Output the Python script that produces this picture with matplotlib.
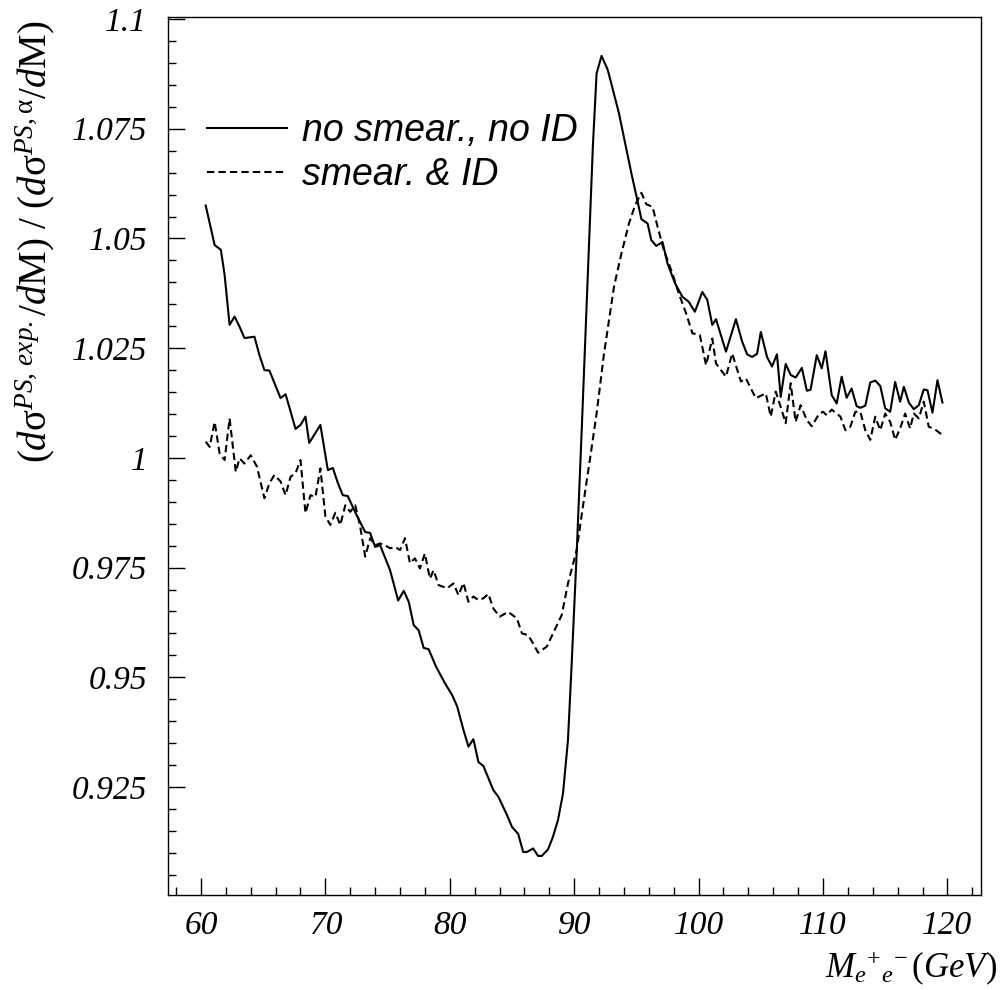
import matplotlib
matplotlib.use("Agg")
import matplotlib.pyplot as plt
from matplotlib.ticker import MultipleLocator, FixedLocator, FuncFormatter

plt.rcParams["mathtext.fontset"] = "custom"
plt.rcParams["mathtext.rm"] = "Liberation Serif"
plt.rcParams["mathtext.it"] = "Liberation Serif:italic"
plt.rcParams["mathtext.bf"] = "Liberation Serif:bold"

# no smearing, no ID (solid)
solid_x = [60.38, 61.1, 61.6, 61.9, 62.3, 62.7, 63.1, 63.5, 64.3, 64.7, 65.1, 65.5,
           66.4, 66.8, 67.1, 67.6, 68.0, 68.4, 68.7, 69.6, 70.2, 70.6, 71.0, 71.4,
           71.8, 72.5, 73.2, 73.6, 74.0, 74.4, 75.2, 75.85, 76.3, 76.7, 77.1, 77.5,
           77.9, 78.3, 78.9, 79.6, 80.2, 80.6, 81.1, 81.5, 81.9, 82.3, 82.7, 83.5,
           83.9, 84.6, 85.0, 85.5, 85.9, 86.2, 86.7, 87.1, 87.4, 87.9, 88.3, 88.7,
           89.1, 89.5, 89.8, 90.2, 90.6, 91.5, 91.8, 92.2, 92.7, 93.6, 94.6, 95.1,
           95.4, 95.9, 96.2, 96.6, 97.1, 97.5, 98.1, 98.7, 99.2, 99.7, 100.3, 100.7,
           101.1, 101.4, 102.2, 103.0, 103.5, 103.9, 104.3, 104.7, 105.0, 105.5, 105.9, 106.3,
           106.6, 107.0, 107.4, 107.8, 108.3, 108.7, 109.0, 109.5, 109.9, 110.2, 110.7, 111.1,
           111.5, 111.9, 112.3, 112.7, 113.0, 113.4, 113.8, 114.2, 114.6, 115.0, 115.4, 115.8,
           116.2, 116.5, 116.9, 117.3, 117.7, 118.1, 118.4, 118.8, 119.2, 119.6]
solid_y = [1.0575, 1.0485, 1.0474, 1.0417, 1.0303, 1.0322, 1.0299, 1.0273, 1.0276, 1.0234, 1.0200, 1.0199,
           1.0136, 1.0145, 1.0116, 1.0066, 1.0075, 1.0094, 1.0034, 1.0075, 0.9972, 0.9977, 0.9943, 0.9915,
           0.9913, 0.9870, 0.9831, 0.9829, 0.9797, 0.9801, 0.9744, 0.9675, 0.9697, 0.9672, 0.9619, 0.9607,
           0.9567, 0.9564, 0.9524, 0.9487, 0.9459, 0.9433, 0.9380, 0.9342, 0.9359, 0.9307, 0.9298, 0.9243,
           0.9228, 0.9186, 0.9159, 0.9143, 0.9102, 0.9102, 0.9110, 0.9093, 0.9093, 0.9108, 0.9137, 0.9175,
           0.9235, 0.9357, 0.9532, 0.9783, 1.0060, 1.0709, 1.0876, 1.0916, 1.0884, 1.0785, 1.0648, 1.0584,
           1.0544, 1.0534, 1.0496, 1.0483, 1.0492, 1.0443, 1.0398, 1.0367, 1.0356, 1.0333, 1.0378, 1.0360,
           1.0303, 1.0316, 1.0242, 1.0316, 1.0265, 1.0236, 1.0230, 1.0237, 1.0287, 1.0230, 1.0208, 1.0236,
           1.0139, 1.0214, 1.0189, 1.0183, 1.0205, 1.0153, 1.0155, 1.0234, 1.0204, 1.0243, 1.0143, 1.0124,
           1.0185, 1.0137, 1.0158, 1.0118, 1.0114, 1.0119, 1.0172, 1.0176, 1.0164, 1.0113, 1.0105, 1.0173,
           1.0128, 1.0162, 1.0126, 1.0111, 1.0120, 1.0156, 1.0154, 1.0103, 1.0177, 1.0126]

# smearing & ID (dashed)
dash_x = [60.38, 60.7, 61.1, 61.5, 61.9, 62.3, 62.8, 63.1, 63.5, 64.0, 64.5, 65.1,
          65.5, 65.9, 66.4, 66.8, 67.2, 67.6, 68.0, 68.4, 68.8, 69.2, 69.6, 70.0,
          70.4, 70.8, 71.2, 71.6, 72.0, 72.4, 72.8, 73.2, 73.6, 74.0, 74.4, 74.8,
          75.2, 75.6, 76.0, 76.4, 76.8, 77.2, 77.6, 78.0, 78.4, 78.7, 79.1, 79.8,
          80.3, 80.7, 81.1, 81.5, 81.9, 82.3, 82.7, 83.1, 83.5, 84.0, 84.7, 85.4,
          85.8, 86.3, 86.7, 87.1, 87.8, 88.3, 89.0, 89.5, 90.2, 90.7, 91.3, 91.8,
          92.4, 93.2, 93.8, 94.4, 94.9, 95.4, 95.8, 96.3, 96.7, 97.2, 97.9, 98.4,
          99.0, 99.5, 100.1, 100.6, 101.1, 101.4, 102.2, 102.7, 103.4, 103.8, 104.6, 105.4,
          105.8, 106.2, 106.6, 107.0, 107.4, 107.8, 108.2, 108.7, 109.1, 109.7, 110.0, 110.3,
          110.7, 111.4, 111.8, 112.2, 112.6, 113.0, 113.4, 113.8, 114.2, 114.6, 115.0, 115.4,
          115.8, 116.2, 116.6, 117.0, 117.3, 117.7, 118.1, 118.5, 119.0, 119.6]
dash_y = [1.0037, 1.0025, 1.0082, 1.0010, 0.9995, 1.0090, 0.9968, 0.9999, 0.9987, 1.0006, 0.9980, 0.9908,
          0.9942, 0.9961, 0.9946, 0.9915, 0.9957, 0.9965, 0.9995, 0.9874, 0.9915, 0.9911, 0.9976, 0.9867,
          0.9847, 0.9875, 0.9847, 0.9892, 0.9877, 0.9892, 0.9843, 0.9775, 0.9817, 0.9801, 0.9805, 0.9801,
          0.9794, 0.9797, 0.9790, 0.9817, 0.9760, 0.9771, 0.9748, 0.9782, 0.9725, 0.9744, 0.9710, 0.9703,
          0.9714, 0.9687, 0.9715, 0.9672, 0.9684, 0.9676, 0.9680, 0.9690, 0.9657, 0.9638, 0.9649, 0.9634,
          0.9600, 0.9596, 0.9577, 0.9556, 0.9570, 0.9600, 0.9642, 0.9714, 0.9790, 0.9889, 1.0003, 1.0101,
          1.0238, 1.0390, 1.0466, 1.0534, 1.0576, 1.0604, 1.0578, 1.0572, 1.0527, 1.0474, 1.0420, 1.0375,
          1.0329, 1.0284, 1.0280, 1.0211, 1.0272, 1.0215, 1.0185, 1.0238, 1.0174, 1.0181, 1.0136, 1.0147,
          1.0094, 1.0151, 1.0116, 1.0079, 1.0170, 1.0082, 1.0120, 1.0086, 1.0072, 1.0101, 1.0105, 1.0097,
          1.0110, 1.0094, 1.0063, 1.0071, 1.0105, 1.0105, 1.0063, 1.0041, 1.0094, 1.0063, 1.0101, 1.0082,
          1.0041, 1.0067, 1.0101, 1.0067, 1.0101, 1.0090, 1.0128, 1.0071, 1.0065, 1.0052]

y_ticks = [0.925, 0.95, 0.975, 1.0, 1.025, 1.05, 1.075, 1.1]
x_ticks = [60, 70, 80, 90, 100, 110, 120]

fig = plt.figure(figsize=(10, 9.9), dpi=100)
ax = fig.add_axes([0.168, 0.096, 0.813, 0.887])

ax.plot(solid_x, solid_y, color="black", lw=1.5, label="no smear., no ID")
ax.plot(dash_x, dash_y, color="black", lw=1.5, linestyle=(0, (3.5, 2)), label="smear. & ID")

ax.set_xlim(57.35, 122.7)
ax.set_ylim(0.9004, 1.1005)
ax.xaxis.set_major_locator(FixedLocator(x_ticks))
ax.xaxis.set_minor_locator(MultipleLocator(2))
ax.yaxis.set_major_locator(FixedLocator(y_ticks))
ax.yaxis.set_minor_locator(MultipleLocator(0.005))
ax.yaxis.set_major_formatter(FuncFormatter(lambda v, p: "%g" % round(v, 3)))

ax.tick_params(which="both", direction="in", top=False, right=False, width=1.0)
ax.tick_params(which="major", length=12)
ax.tick_params(which="minor", length=6)
ax.tick_params(axis="y", pad=15)
ax.tick_params(axis="x", pad=11)
for lab in ax.get_xticklabels() + ax.get_yticklabels():
    lab.set_fontfamily("Liberation Serif")
    lab.set_fontstyle("italic")
    lab.set_fontsize(24)
for s in ax.spines.values():
    s.set_linewidth(1.0)

leg = ax.legend(loc="upper left", bbox_to_anchor=(0.207, 1 - 113 / 990),
                bbox_transform=fig.transFigure, frameon=False, borderpad=0,
                borderaxespad=0, handlelength=2.13, handletextpad=0.4,
                labelspacing=0.22, prop={"family": "Liberation Sans", "style": "italic", "size": 27})

fig.text(0.035, 1 - 20 / 990,
         r"$(d\mathrm{\sigma}^{PS,\,exp.}/d\mathrm{M})\ /\ (d\mathrm{\sigma}^{PS,\mathrm{\alpha}}/d\mathrm{M})$",
         rotation=90, ha="center", va="top", fontsize=28)
fig.text(0.997, 1 - 977 / 990, r"$M_{e}{}^{+}{}_{e}{}^{-}\,(GeV)$",
         ha="right", va="baseline", fontsize=25)

plt.savefig("out.png", dpi=100)
